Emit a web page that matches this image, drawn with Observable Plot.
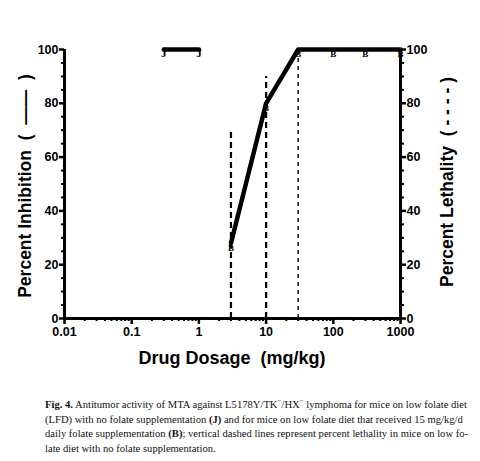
<!DOCTYPE html>
<html><head><meta charset="utf-8">
<script src="https://cdn.jsdelivr.net/npm/d3@7"></script>
<script src="https://cdn.jsdelivr.net/npm/@observablehq/plot@0.6"></script>
<style>
body{margin:0;background:#fff;}
#cap{position:absolute;left:45px;top:398px;width:425px;font-family:"Liberation Serif",serif;font-size:10.6px;line-height:14.6px;color:#111;white-space:nowrap;}
</style></head><body>
<div id="chart"></div>
<div id="cap"><b>Fig. 4.</b> Antitumor activity of MTA against L5178Y/TK<sup style="font-size:7px;line-height:0">−</sup>/HX<sup style="font-size:7px;line-height:0">−</sup> lymphoma for mice on low folate diet<br>(LFD) with no folate supplementation <b>(J)</b> and for mice on low folate diet that received 15 mg/kg/d<br>daily folate supplementation <b>(B)</b>; vertical dashed lines represent percent lethality in mice on low fo-<br>late diet with no folate supplementation.</div>
<script>
const doseB = [3, 10, 30, 100, 300, 1000];
const inhibB = [28, 80, 100, 100, 100, 100];
const doseJ = [0.3, 1];
const inhibJ = [100, 100];
const doseLeth = [3, 10, 30];
const lethality = [70, 90, 100];
const xTicks = [0.01, 0.1, 1, 10, 100, 1000];
const xTickLabels = ["0.01", "0.1", "1", "10", "100", "1000"];
const yTicks = [0, 20, 40, 60, 80, 100];

const xMinor = [];
for (let e = -2; e < 3; e++) for (let m = 2; m <= 9; m++) xMinor.push(m * Math.pow(10, e));
const yMinor = d3.range(0, 101, 5).filter(v => v % 20 !== 0);

const B = doseB.map((d, i) => ({x: d, y: inhibB[i]}));
const J = doseJ.map((d, i) => ({x: d, y: inhibJ[i]}));
const L = doseLeth.map((d, i) => ({x: d, y: lethality[i], i}));

const font = {fontFamily: "Liberation Sans, Arial, sans-serif", fontWeight: "bold", fontSize: 12.5};

const plot = Plot.plot({
  width: 480, height: 390,
  marginLeft: 64, marginRight: 80, marginTop: 49, marginBottom: 72,
  style: {fontFamily: "Liberation Sans, Arial, sans-serif", color: "#000", background: "#fff"},
  x: {type: "log", domain: [0.01, 1000]},
  y: {domain: [0, 100]},
  marks: [
    Plot.ruleX(L.filter(d => d.i < 2), {x: "x", y1: 0, y2: "y", stroke: "#000", strokeWidth: 2.2, strokeDasharray: "6,4"}),
    Plot.ruleX(L.filter(d => d.i === 2), {x: "x", y1: 0, y2: "y", stroke: "#000", strokeWidth: 1.4, strokeDasharray: "4,4"}),
    Plot.line(B, {x: "x", y: "y", stroke: "#000", strokeWidth: 4.5}),
    Plot.line(J, {x: "x", y: "y", stroke: "#000", strokeWidth: 4.5}),
    Plot.text(B, {x: "x", y: "y", text: () => "B", fontSize: 9, fontFamily: "Liberation Serif", fontWeight: "bold", dy: 5, fill: "#000"}),
    Plot.text(J, {x: "x", y: "y", text: () => "J", fontSize: 11, fontFamily: "Liberation Serif", fontWeight: "bold", dy: 4, fill: "#000"}),
    Plot.ruleX([0.01], {y1: 0, y2: 100, strokeWidth: 3}),
    Plot.ruleX([1000], {y1: 0, y2: 100, strokeWidth: 3}),
    Plot.ruleY([0], {x1: 0.01, x2: 1000, strokeWidth: 3}),
    Plot.axisY({anchor: "left", ticks: yTicks, tickSize: 5, tickPadding: 1, strokeWidth: 2.5, label: null, ...font}),
    Plot.axisY({anchor: "left", ticks: yMinor, tickSize: 3, strokeWidth: 2, text: null, label: null}),
    Plot.axisY({anchor: "right", ticks: yTicks, tickSize: 5, tickPadding: 1, strokeWidth: 2.5, label: null, ...font}),
    Plot.axisY({anchor: "right", ticks: yMinor, tickSize: 3, strokeWidth: 2, text: null, label: null}),
    Plot.axisX({ticks: xTicks, tickFormat: (d) => xTickLabels[xTicks.indexOf(d)], tickSize: 6, tickPadding: 3, strokeWidth: 2.5, label: null, ...font}),
    Plot.axisX({ticks: xMinor, tickSize: 3, strokeWidth: 2, text: null, label: null})
  ]
});
document.getElementById("chart").appendChild(plot);

const svg = d3.select(plot);
svg.append("text").attr("x", 232).attr("y", 364).attr("text-anchor", "middle")
  .attr("font-family", "Liberation Sans, Arial, sans-serif").attr("font-weight", "bold").attr("font-size", 18)
  .text("Drug Dosage  (mg/kg)");
svg.append("text").attr("transform", "translate(31,186) rotate(-90)").attr("text-anchor", "middle")
  .attr("font-family", "Liberation Sans, Arial, sans-serif").attr("font-weight", "bold").attr("font-size", 17.5)
  .text("Percent Inhibition  (  ——  )");
svg.append("text").attr("transform", "translate(453,182) rotate(-90)").attr("text-anchor", "middle")
  .attr("font-family", "Liberation Sans, Arial, sans-serif").attr("font-weight", "bold").attr("font-size", 17.5)
  .text("Percent Lethality  ( - - - - )");
</script>
</body></html>
